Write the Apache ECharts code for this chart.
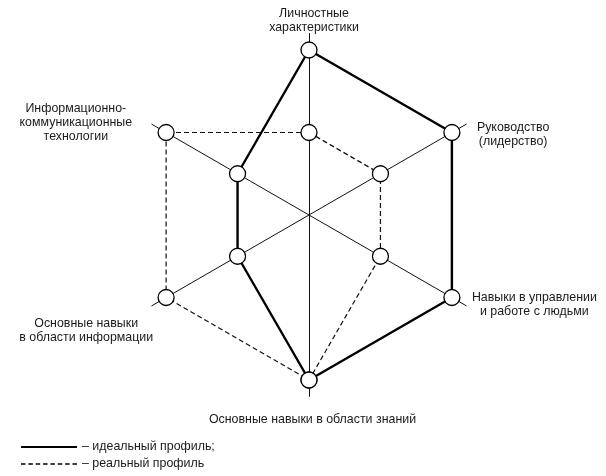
<!DOCTYPE html>
<html>
<head>
<meta charset="utf-8">
<script src="https://cdn.jsdelivr.net/npm/echarts@6/dist/echarts.min.js"></script>
<style>
html, body { margin: 0; padding: 0; background: #fff; }
#chart { width: 606px; height: 476px; }
</style>
</head>
<body>
<div id="chart"></div>
<script>
// indicators go counterclockwise from the top
var indicatorNames = [
  'Личностные\nхарактеристики',
  'Информационно-\nкоммуникационные\nтехнологии',
  'Основные навыки\nв области информации',
  'Основные навыки в области знаний',
  'Навыки в управлении\nи работе с людьми',
  'Руководство\n(лидерство)'
];
var axisMax = 2.2;
var idealValues = [2, 1, 1, 2, 2, 2];
var realValues = [1, 2, 2, 2, 1, 1];
var seriesNames = ['идеальный профиль', 'реальный профиль'];

// label nudges: spacer above, right, below, left (px)
var nameShift = [
  [0, 0, 0, 10],
  [0, 21, 4, 0],
  [52, 0, 0, 0],
  [18, 0, 0, 7],
  [0, 0, 0, 7],
  [20, 0, 0, 12]
];

var fontFam = 'Liberation Sans, Arial, sans-serif';
var rich = {
  t: { align: 'center', lineHeight: 14, fontSize: 12.4, color: '#1a1a1a', fontFamily: fontFam }
};
nameShift.forEach(function (s, i) {
  rich['top' + i] = { lineHeight: s[0], fontSize: 1 };
  rich['bot' + i] = { lineHeight: s[2], fontSize: 1 };
  rich['r' + i] = { width: s[1], align: 'right', fontSize: 1 };
  rich['l' + i] = { width: s[3], align: 'left', fontSize: 1 };
});

function dashPath() {
  var s = '';
  for (var i = 0; i < 8; i++) {
    s += 'M' + (i * 7.2) + ',0h4.4v1.4h-4.4z';
  }
  return 'path://' + s;
}

var chart = echarts.init(document.getElementById('chart'));
chart.setOption({
  backgroundColor: '#fff',
  animation: false,
  legend: {
    orient: 'vertical',
    left: 21,
    top: 441,
    padding: 0,
    itemWidth: 56,
    itemHeight: 2,
    itemGap: 5,
    textStyle: { color: '#1a1a1a', fontSize: 12.4, fontFamily: fontFam },
    data: [
      { name: seriesNames[0], icon: 'rect', itemStyle: { color: '#000', borderWidth: 0 } },
      { name: seriesNames[1], icon: dashPath(), itemStyle: { color: '#000', borderWidth: 0 } }
    ],
    formatter: function (name) {
      return name == seriesNames[0] ? '– ' + name + ';' : '– ' + name;
    }
  },
  radar: {
    center: [309, 215],
    radius: 181.5,
    startAngle: 90,
    splitNumber: 1,
    shape: 'polygon',
    axisNameGap: -1.5,
    indicator: indicatorNames.map(function (n) { return { name: n, max: axisMax, min: 0 }; }),
    axisName: {
      formatter: function (name) {
        var i = indicatorNames.indexOf(name);
        var s = nameShift[i];
        var lines = name.split('\n').map(function (l) {
          return (s[3] ? '{l' + i + '| }' : '') + '{t|' + l + '}' + (s[1] ? '{r' + i + '| }' : '');
        });
        if (s[0]) lines.unshift('{top' + i + '| }');
        if (s[2]) lines.push('{bot' + i + '| }');
        return lines.join('\n');
      },
      rich: rich
    },
    axisLine: { show: true, lineStyle: { color: '#111', width: 1 } },
    splitLine: { show: false },
    splitArea: { show: false }
  },
  series: [
    {
      type: 'radar',
      data: [
        {
          name: seriesNames[1],
          value: realValues,
          symbol: 'circle',
          symbolSize: 16,
          lineStyle: { color: '#111', width: 1.2, type: [5, 3] },
          itemStyle: { color: '#fff', borderColor: '#000', borderWidth: 1.3 }
        },
        {
          name: seriesNames[0],
          value: idealValues,
          symbol: 'circle',
          symbolSize: 16,
          lineStyle: { color: '#000', width: 2.4 },
          itemStyle: { color: '#fff', borderColor: '#000', borderWidth: 1.3 }
        }
      ]
    }
  ]
});
window.addEventListener('resize', function () { chart.resize(); });
</script>
</body>
</html>
